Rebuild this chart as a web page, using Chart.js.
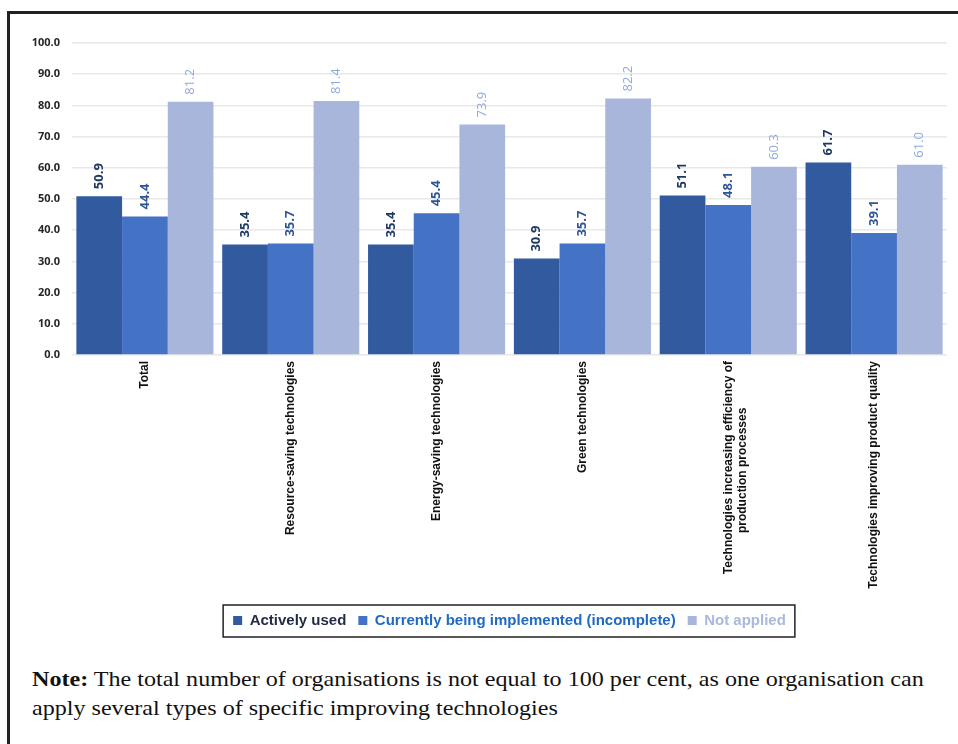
<!DOCTYPE html>
<html>
<head>
<meta charset="utf-8">
<script src="https://cdn.jsdelivr.net/npm/chart.js@4.4.1/dist/chart.umd.min.js"></script>
<style>
  html, body { margin: 0; padding: 0; background: #fff; }
  body { width: 958px; height: 744px; position: relative; overflow: hidden; }
  .frame {
    position: absolute; left: 7px; top: 11px; right: 0; bottom: 0;
    border-top: 3px solid #222; border-left: 3px solid #222;
  }
  .chart-box { position: absolute; left: 10px; top: 14px; width: 948px; height: 630px; }
  .note {
    position: absolute; left: 32px; top: 664px; width: 900px;
    font-family: "Liberation Serif", "Times New Roman", serif;
    font-size: 22px; line-height: 29px; color: #111;
    transform: scaleX(1.095); transform-origin: left top;
    white-space: nowrap;
  }
</style>
</head>
<body>
<div class="frame"></div>
<div class="chart-box"><canvas id="techChart" width="948" height="630"></canvas></div>
<div class="note"><b>Note:</b> The total number of organisations is not equal to 100 per cent, as one organisation can<br>apply several types of specific improving technologies</div>

<script>
const categories = [
  'Total',
  'Resource-saving technologies',
  'Energy-saving technologies',
  'Green technologies',
  ['Technologies increasing efficiency of', 'production processes' + '\u00a0'.repeat(14)],
  'Technologies improving product quality'
];

const activelyUsed = [50.9, 35.4, 35.4, 30.9, 51.1, 61.7];
const beingImplemented = [44.4, 35.7, 45.4, 35.7, 48.1, 39.1];
const notApplied = [81.2, 81.4, 73.9, 82.2, 60.3, 61.0];

const seriesNames = ['Actively used', 'Currently being implemented (incomplete)', 'Not applied'];
const barColors = ['#325A9F', '#4472C4', '#A9B6DB'];
const valueColors = ['#1F3864', '#2F5597', '#8EAADB'];
const legendColors = ['#1F2A44', '#1F6AC4', '#A9B8DE'];

// value labels, rotated and sitting just above each bar
const valueLabels = {
  id: 'valueLabels',
  afterDatasetsDraw(chart) {
    const ctx = chart.ctx;
    chart.data.datasets.forEach((ds, i) => {
      const meta = chart.getDatasetMeta(i);
      ctx.save();
      ctx.font = (i < 2 ? 'bold ' : '') + '13px "Open Sans", sans-serif';
      ctx.fillStyle = valueColors[i];
      ctx.textAlign = 'left';
      ctx.textBaseline = 'middle';
      meta.data.forEach((bar, j) => {
        ctx.save();
        ctx.translate(bar.x, bar.y - 7);
        ctx.rotate(-Math.PI / 2);
        ctx.fillText(ds.data[j].toFixed(1), 0, 0);
        ctx.restore();
      });
      ctx.restore();
    });
  }
};

// thin frame round the legend
const legendFrame = {
  id: 'legendFrame',
  afterDraw(chart) {
    const boxes = chart.legend.legendHitBoxes;
    if (!boxes || !boxes.length) return;
    const left = Math.min(...boxes.map(b => b.left)) - 10;
    const right = Math.max(...boxes.map(b => b.left + b.width)) + 9;
    const top = Math.min(...boxes.map(b => b.top)) - 8;
    const bottom = Math.max(...boxes.map(b => b.top + b.height)) + 9;
    const ctx = chart.ctx;
    ctx.save();
    ctx.strokeStyle = '#222';
    ctx.lineWidth = 1.5;
    ctx.strokeRect(left, top, right - left, bottom - top);
    ctx.restore();
  }
};

new Chart(document.getElementById('techChart'), {
  type: 'bar',
  data: {
    labels: categories,
    datasets: [
      { label: seriesNames[0], data: activelyUsed, backgroundColor: barColors[0] },
      { label: seriesNames[1], data: beingImplemented, backgroundColor: barColors[1] },
      { label: seriesNames[2], data: notApplied, backgroundColor: barColors[2] }
    ]
  },
  options: {
    responsive: false,
    animation: false,
    datasets: {
      bar: { categoryPercentage: 0.94, barPercentage: 1.0 }
    },
    layout: { padding: { top: 29, right: 11, left: 0, bottom: 6 } },
    scales: {
      x: {
        grid: { display: false, drawTicks: false },
        border: { display: false },
        ticks: {
          minRotation: 90,
          maxRotation: 90,
          autoSkip: false,
          padding: 6,
          color: '#111',
          font: { family: '"Liberation Sans", Arial, sans-serif', size: 12, weight: 'bold' }
        },
        afterFit(axis) { axis.height = 246; }
      },
      y: {
        min: 0,
        max: 100,
        border: { display: false },
        grid: { color: '#e8e8e8', lineWidth: 1.5, drawTicks: false },
        ticks: {
          stepSize: 10,
          padding: 12,
          color: '#262626',
          font: { family: '"Open Sans", sans-serif', size: 11, weight: 'bold' },
          callback: v => Number(v).toFixed(1)
        },
        afterFit(axis) { axis.width = 62; }
      }
    },
    plugins: {
      tooltip: { enabled: false },
      legend: {
        position: 'bottom',
        fullSize: false,
        labels: {
          boxWidth: 9,
          boxHeight: 9,
          padding: 12,
          font: { family: '"Liberation Sans", Arial, sans-serif', size: 15, weight: 'bold' },
          generateLabels(chart) {
            return chart.data.datasets.map((ds, i) => ({
              text: ds.label,
              fillStyle: barColors[i],
              strokeStyle: barColors[i],
              lineWidth: 0,
              fontColor: legendColors[i],
              datasetIndex: i
            }));
          }
        }
      }
    }
  },
  plugins: [valueLabels, legendFrame]
});
</script>
</body>
</html>
